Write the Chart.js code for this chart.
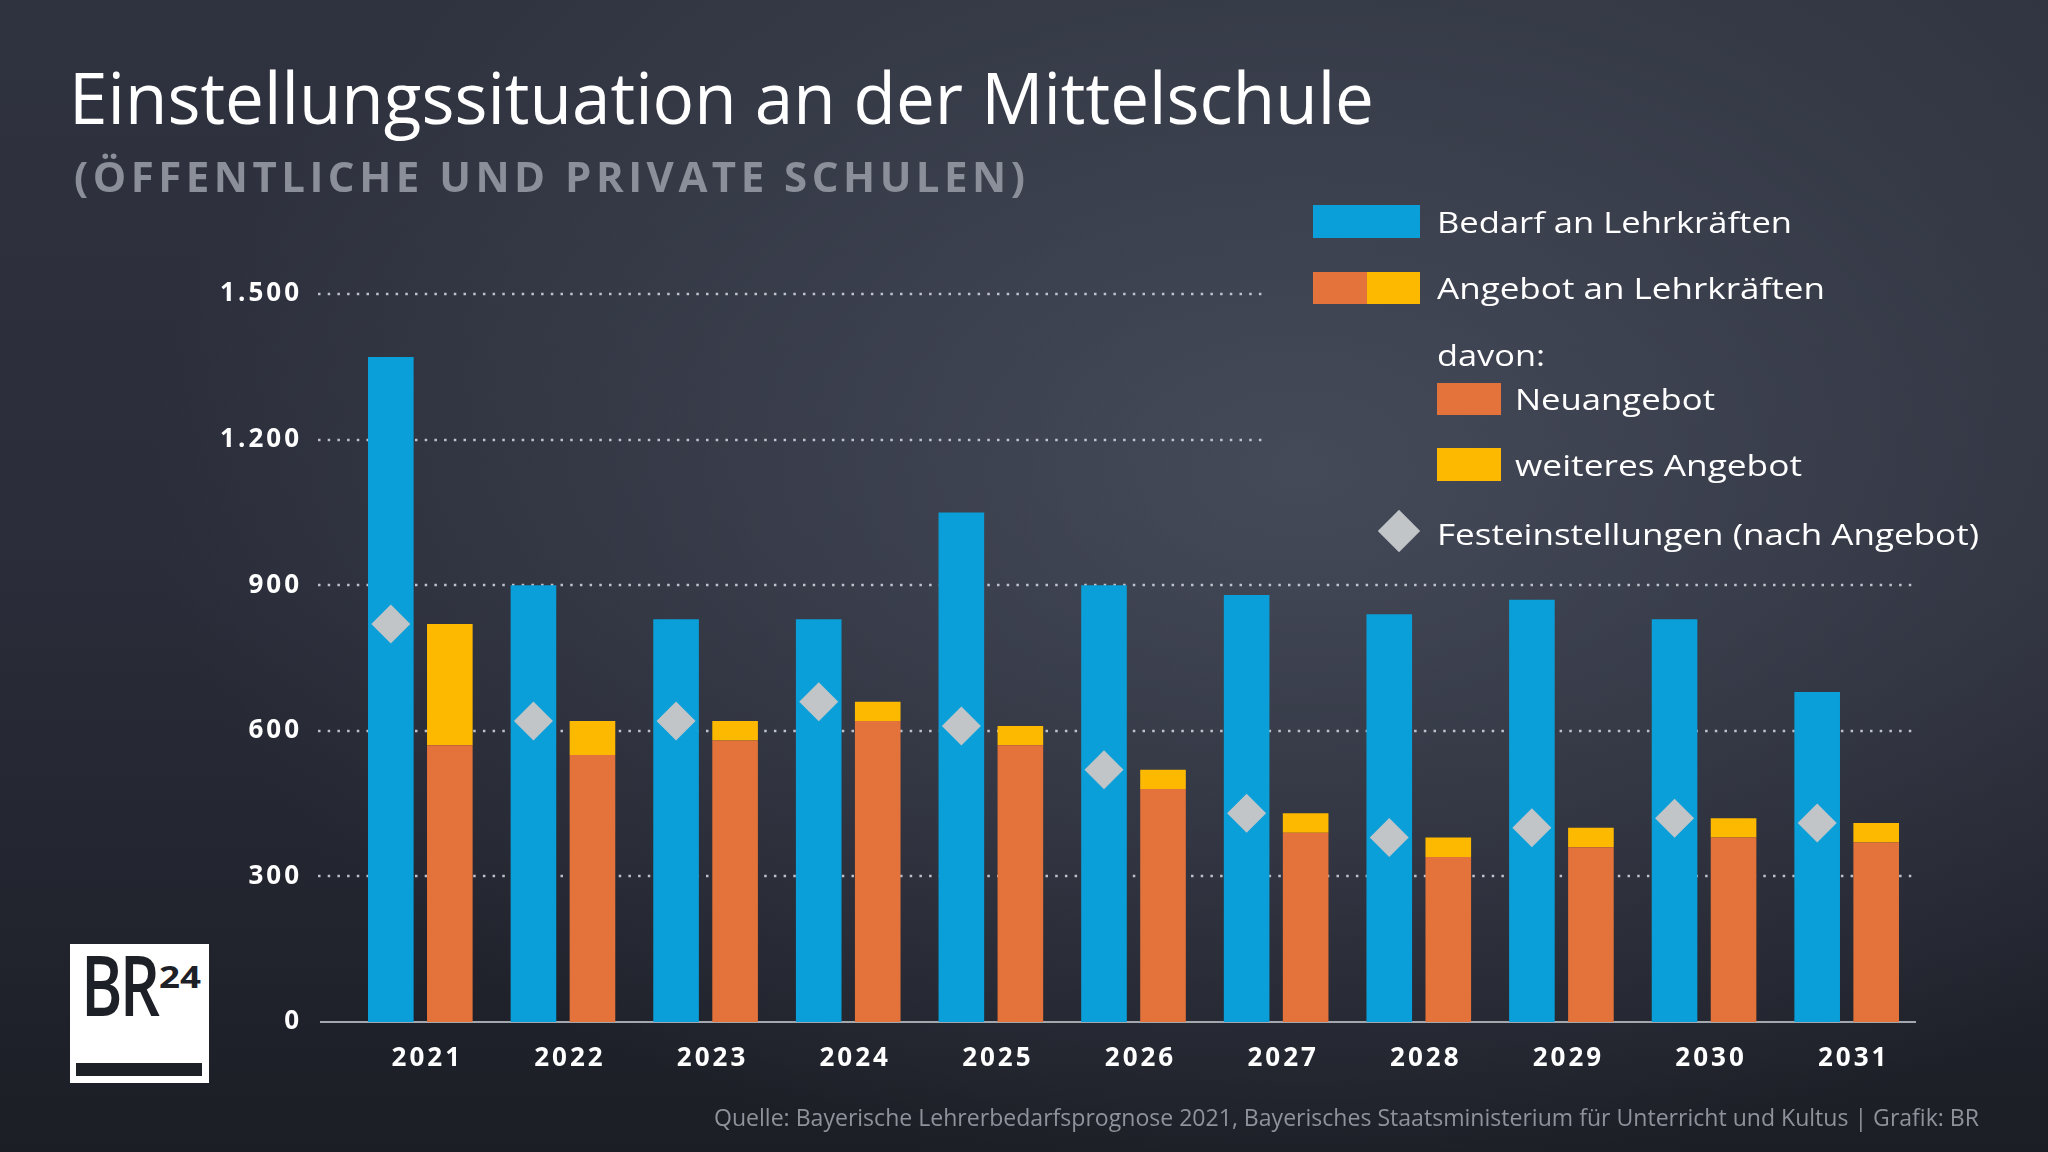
<!DOCTYPE html>
<html lang="de">
<head>
<meta charset="utf-8">
<title>Einstellungssituation an der Mittelschule</title>
<script src="https://cdn.jsdelivr.net/npm/chart.js@4/dist/chart.umd.min.js"></script>
<style>
  html, body { margin: 0; padding: 0; }
  body {
    width: 2048px; height: 1152px; overflow: hidden; position: relative;
    font-family: "Open Sans", sans-serif; color: #fff;
    background:
      radial-gradient(ellipse 1150px 720px at 1300px 470px, rgba(80, 86, 102, 0.7) 0%, rgba(80, 86, 102, 0) 100%),
      linear-gradient(180deg, #2f333f 0%, #2a2d39 50%, #1c1e26 100%);
  }
  #chart { position: absolute; left: 0; top: 0; }
  .txt { position: absolute; white-space: nowrap; line-height: 1; transform-origin: 0 0; }
  .title { left: 69px; top: 61px; font-size: 71px; }
  .subtitle { left: 74px; top: 155px; font-size: 42px; font-weight: 700; color: #8b8f99; }
  .leg { font-size: 30px; color: #fff; }
  .sw { position: absolute; }
  .diamond { position: absolute; width: 30px; height: 30px; background: #c1c5c8; transform: rotate(45deg); }
  .source { left: 714px; top: 1106px; font-size: 23px; color: #8e929b; }
  .logo { position: absolute; left: 70px; top: 944px; width: 139px; height: 139px; background: #fff; overflow: hidden; }
  .logo .br { left: 11px; top: -2px; font-size: 84px; font-weight: 600; color: #1e2028; letter-spacing: -4px; }
  .logo .n24 { left: 89px; top: 17px; font-size: 31px; font-weight: 700; color: #1e2028; }
  .logo .bar { position: absolute; left: 6px; top: 119px; width: 126px; height: 13px; background: #1e2028; }
</style>
</head>
<body>
<canvas id="chart" width="2048" height="1152"></canvas>

<div class="txt title" data-fit="1305">Einstellungssituation an der Mittelschule</div>
<div class="txt subtitle" data-spread="951">(ÖFFENTLICHE UND PRIVATE SCHULEN)</div>

<!-- legend -->
<div class="sw" style="left:1313px;top:205px;width:107px;height:33px;background:#0a9fd8"></div>
<div class="txt leg" style="left:1437px;top:207px" data-fit="355">Bedarf an Lehrkräften</div>
<div class="sw" style="left:1313px;top:272px;width:54px;height:32px;background:#e3723b"></div>
<div class="sw" style="left:1367px;top:272px;width:53px;height:32px;background:#fdb900"></div>
<div class="txt leg" style="left:1437px;top:273px" data-fit="388">Angebot an Lehrkräften</div>
<div class="txt leg" style="left:1437px;top:340px" data-fit="108">davon:</div>
<div class="sw" style="left:1437px;top:383px;width:64px;height:32px;background:#e3723b"></div>
<div class="txt leg" style="left:1515px;top:384px" data-fit="200">Neuangebot</div>
<div class="sw" style="left:1437px;top:448px;width:64px;height:33px;background:#fdb900"></div>
<div class="txt leg" style="left:1515px;top:450px" data-fit="287">weiteres Angebot</div>
<div class="diamond" style="left:1384px;top:516px"></div>
<div class="txt leg" style="left:1437px;top:519px" data-fit="542">Festeinstellungen (nach Angebot)</div>

<div class="txt source" data-fit="1265">Quelle: Bayerische Lehrerbedarfsprognose 2021, Bayerisches Staatsministerium für Unterricht und Kultus | Grafik: BR</div>

<div class="logo">
  <div class="txt br" data-fit="76">BR</div>
  <div class="txt n24" data-fit="42">24</div>
  <div class="bar"></div>
</div>

<script>
// Data
const years = ["2021", "2022", "2023", "2024", "2025", "2026", "2027", "2028", "2029", "2030", "2031"];
const bedarf = [1370, 900, 830, 830, 1050, 900, 880, 840, 870, 830, 680];
const neuangebot = [570, 550, 580, 620, 570, 480, 390, 340, 360, 380, 370];
const weiteresAngebot = [250, 70, 40, 40, 40, 40, 40, 40, 40, 40, 40];
const festeinstellungen = [820, 620, 620, 660, 610, 520, 430, 380, 400, 420, 410];
const yTicks = [0, 300, 600, 900, 1200, 1500];

Chart.defaults.font.family = "'Open Sans', sans-serif";

// dotted grid lines + solid baseline, drawn behind the bars
const dottedGrid = {
  id: "dottedGrid",
  beforeDatasetsDraw(chart) {
    const { ctx, scales: { y } } = chart;
    ctx.save();
    y.ticks.forEach((t) => {
      const py = Math.round(y.getPixelForValue(t.value));
      ctx.beginPath();
      if (t.value === 0) {
        ctx.setLineDash([]);
        ctx.strokeStyle = "#a3a7ae";
        ctx.lineWidth = 2;
        ctx.moveTo(320, py);
        ctx.lineTo(1916, py);
      } else {
        ctx.setLineDash([2.5, 7.2]);
        ctx.strokeStyle = "rgba(205, 210, 218, 0.9)";
        ctx.lineWidth = 2.5;
        ctx.moveTo(318, py);
        ctx.lineTo(t.value > 900 ? 1267 : 1915, py);
      }
      ctx.stroke();
    });
    ctx.restore();
  },
};

// letter-spaced axis labels
const spacedTicks = {
  id: "spacedTicks",
  beforeDraw(chart) {
    chart.ctx.letterSpacing = "3px";
  },
  beforeDatasetsDraw(chart) {
    chart.ctx.letterSpacing = "0px";
  },
};

// put the diamonds on top of the blue bars
const alignDiamonds = {
  id: "alignDiamonds",
  afterDatasetsUpdate(chart) {
    const bars = chart.getDatasetMeta(0).data;
    chart.getDatasetMeta(3).data.forEach((pt, i) => {
      pt.x = bars[i].x;
    });
  },
};

const barStyle = { barPercentage: 0.773, categoryPercentage: 0.8275, borderWidth: 0, order: 1 };

const ctx = document.getElementById("chart").getContext("2d");
new Chart(ctx, {
  type: "bar",
  data: {
    labels: years,
    datasets: [
      { label: "Bedarf an Lehrkräften", data: bedarf, backgroundColor: "#0a9fd8", stack: "bedarf", ...barStyle },
      { label: "Neuangebot", data: neuangebot, backgroundColor: "#e3723b", stack: "angebot", ...barStyle },
      { label: "weiteres Angebot", data: weiteresAngebot, backgroundColor: "#fdb900", stack: "angebot", ...barStyle },
      {
        type: "line",
        label: "Festeinstellungen (nach Angebot)",
        data: festeinstellungen,
        showLine: false,
        pointStyle: "rectRot",
        pointRadius: 19.5,
        pointBackgroundColor: "#c1c5c8",
        pointBorderWidth: 0,
        stack: "fest",
        order: 0,
      },
    ],
  },
  options: {
    responsive: false,
    animation: false,
    events: [],
    layout: { padding: { top: 294, right: 130, bottom: 0, left: 0 } },
    plugins: {
      legend: { display: false },
      tooltip: { enabled: false },
    },
    scales: {
      x: {
        grid: { display: false, drawTicks: false },
        border: { display: false },
        ticks: {
          color: "#ffffff",
          font: { size: 26, weight: "bold" },
          padding: 21,
          labelOffset: 7,
          autoSkip: false,
          maxRotation: 0,
        },
        afterFit(scale) {
          scale.height = 130;
        },
      },
      y: {
        stacked: true,
        min: 0,
        max: 1500,
        grid: { display: false, drawTicks: false },
        border: { display: false },
        afterBuildTicks(scale) {
          scale.ticks = yTicks.map((v) => ({ value: v }));
        },
        ticks: {
          color: "#ffffff",
          font: { size: 26, weight: "bold" },
          padding: 47,
          callback: (v) => v.toLocaleString("de-DE"),
        },
        afterFit(scale) {
          scale.width = 349;
        },
      },
    },
  },
  plugins: [dottedGrid, spacedTicks, alignDiamonds],
});

// squeeze html texts to the widths in the original graphic
document.querySelectorAll("[data-fit]").forEach((el) => {
  const w = el.getBoundingClientRect().width;
  el.style.transform = `scaleX(${+el.dataset.fit / w})`;
});
document.querySelectorAll("[data-spread]").forEach((el) => {
  const w = el.getBoundingClientRect().width;
  const n = el.textContent.length;
  el.style.letterSpacing = (+el.dataset.spread - w) / (n - 1) + "px";
});
</script>
</body>
</html>
